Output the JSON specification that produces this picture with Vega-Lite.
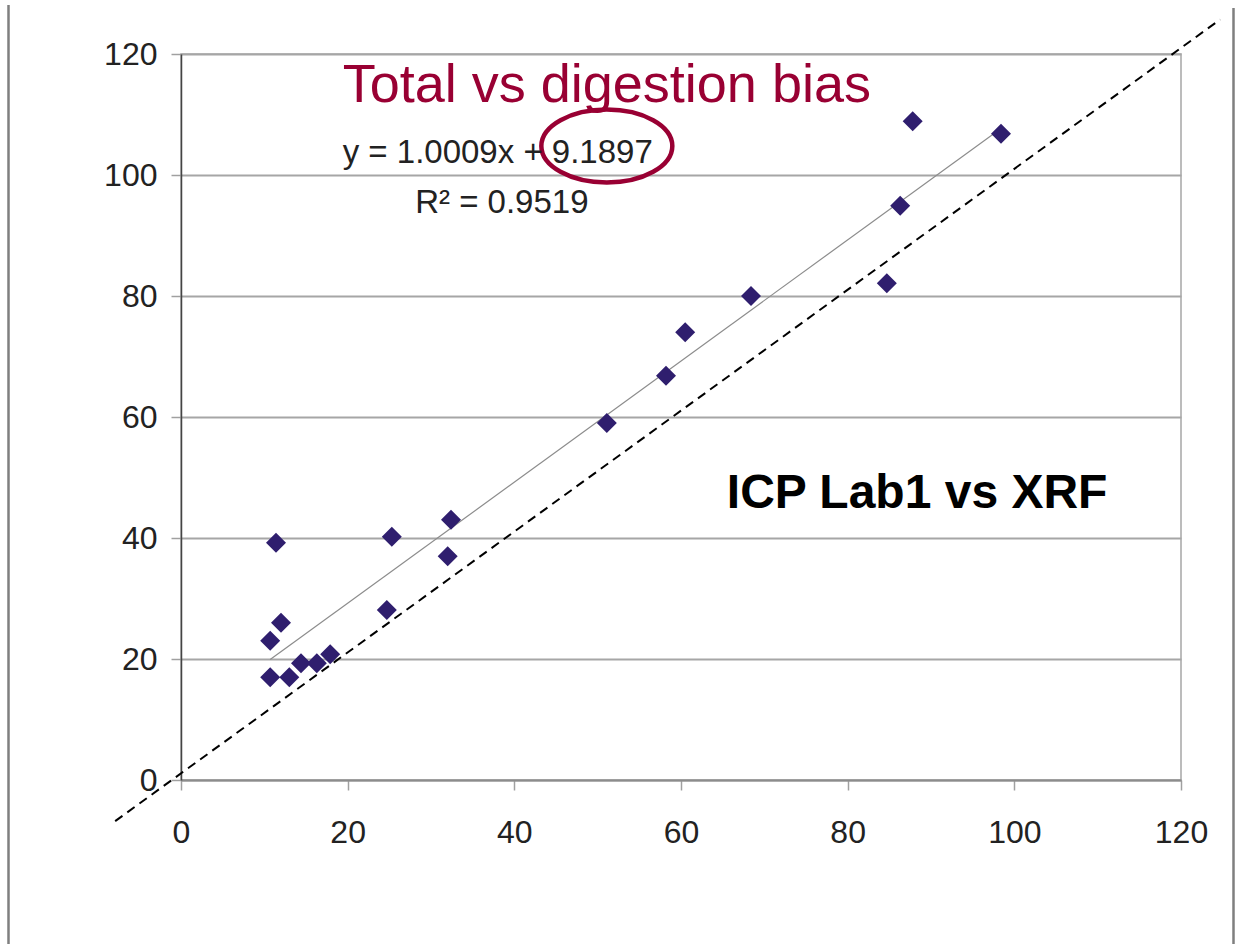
{
  "$schema": "https://vega.github.io/schema/vega-lite/v6.json",
  "width": 1000,
  "height": 726,
  "autosize": {"type": "none"},
  "padding": {"left": 181, "top": 54, "right": 58, "bottom": 164},
  "background": "white",
  "config": {
    "font": "Liberation Sans",
    "view": {"stroke": "#a6a6a6", "strokeWidth": 1.5},
    "axis": {
      "labelFont": "Liberation Sans",
      "labelFontSize": 32,
      "labelColor": "#222222",
      "labelFlush": false,
      "labelOverlap": false,
      "tickColor": "#a0a0a0",
      "tickSize": 10,
      "tickWidth": 1.5,
      "title": null
    }
  },
  "datasets": {
    "points": [
      {"x": 10.7, "y": 17.0},
      {"x": 10.7, "y": 23.0},
      {"x": 11.4, "y": 39.2},
      {"x": 12.0, "y": 26.0},
      {"x": 13.0, "y": 17.0},
      {"x": 14.4, "y": 19.3},
      {"x": 16.3, "y": 19.3},
      {"x": 17.9, "y": 20.8},
      {"x": 24.7, "y": 28.1},
      {"x": 25.3, "y": 40.2},
      {"x": 32.0, "y": 37.0},
      {"x": 32.4, "y": 43.0},
      {"x": 51.1, "y": 59.0},
      {"x": 58.2, "y": 66.8},
      {"x": 60.5, "y": 74.0},
      {"x": 68.4, "y": 80.0},
      {"x": 84.7, "y": 82.1},
      {"x": 86.3, "y": 94.9},
      {"x": 87.8, "y": 108.9},
      {"x": 98.4, "y": 106.8}
    ],
    "trend": [
      {"x": 10.7, "y": 19.9},
      {"x": 98.4, "y": 107.7}
    ],
    "diag": [
      {"x": -7.9, "y": -6.8, "x2": 124.7, "y2": 125.7}
    ],
    "frame": [
      {"x": -20.7, "y": 128.1, "y2": -27.1},
      {"x": 126.3, "y": 127.6, "y2": -27.1}
    ],
    "ellipse": [
      {"x": 51.1, "y": 104.8}
    ],
    "title": [
      {"x": 19.4, "y": 112.1, "text": "Total vs digestion bias"}
    ],
    "eq": [
      {"x": 19.4, "y": 102.0, "text": "y = 1.0009x + 9.1897"},
      {"x": 28.1, "y": 93.7, "text": "R² = 0.9519"}
    ],
    "label": [
      {"x": 65.5, "y": 45.0, "text": "ICP Lab1 vs XRF"}
    ]
  },
  "encoding": {
    "x": {
      "field": "x",
      "type": "quantitative",
      "scale": {"domain": [0, 120], "nice": false, "zero": false},
      "axis": {
        "values": [0, 20, 40, 60, 80, 100, 120],
        "grid": false,
        "domainColor": "#8c8c8c",
        "domainWidth": 2,
        "labelPadding": 27
      }
    },
    "y": {
      "field": "y",
      "type": "quantitative",
      "scale": {"domain": [0, 120], "nice": false, "zero": false},
      "axis": {
        "values": [0, 20, 40, 60, 80, 100, 120],
        "grid": true,
        "gridColor": "#a6a6a6",
        "gridWidth": 2,
        "domainColor": "#444444",
        "domainWidth": 1.5,
        "labelPadding": 14
      }
    }
  },
  "layer": [
    {
      "data": {"name": "frame"},
      "mark": {"type": "rule", "color": "#7f7f7f", "strokeWidth": 2.5},
      "encoding": {"y2": {"field": "y2"}}
    },
    {
      "data": {"name": "diag"},
      "mark": {"type": "rule", "color": "#000000", "strokeWidth": 2, "strokeDash": [9, 6]},
      "encoding": {"x2": {"field": "x2"}, "y2": {"field": "y2"}}
    },
    {
      "data": {"name": "trend"},
      "mark": {"type": "line", "color": "#8c8c8c", "strokeWidth": 1.2},
      "encoding": {}
    },
    {
      "data": {"name": "points"},
      "mark": {"type": "point", "shape": "diamond", "filled": true, "size": 400, "color": "#2f1e6e", "opacity": 1, "strokeWidth": 0}
    },
    {
      "data": {"name": "ellipse"},
      "mark": {
        "type": "point",
        "shape": "M -1 0 C -1 -0.3077 -0.5523 -0.557 0 -0.557 C 0.5523 -0.557 1 -0.3077 1 0 C 1 0.3077 0.5523 0.557 0 0.557 C -0.5523 0.557 -1 0.3077 -1 0 Z",
        "filled": false,
        "size": 17161,
        "stroke": "#990033",
        "strokeWidth": 4.5,
        "opacity": 1
      }
    },
    {
      "data": {"name": "title"},
      "mark": {"type": "text", "align": "left", "baseline": "alphabetic", "fontSize": 54, "color": "#990033", "font": "Liberation Sans"},
      "encoding": {"text": {"field": "text"}}
    },
    {
      "data": {"name": "eq"},
      "mark": {"type": "text", "align": "left", "baseline": "alphabetic", "fontSize": 33, "color": "#222222", "font": "Liberation Sans"},
      "encoding": {"text": {"field": "text"}}
    },
    {
      "data": {"name": "label"},
      "mark": {"type": "text", "align": "left", "baseline": "alphabetic", "fontSize": 48, "fontWeight": "bold", "color": "#000000", "font": "Liberation Sans"},
      "encoding": {"text": {"field": "text"}}
    }
  ]
}
